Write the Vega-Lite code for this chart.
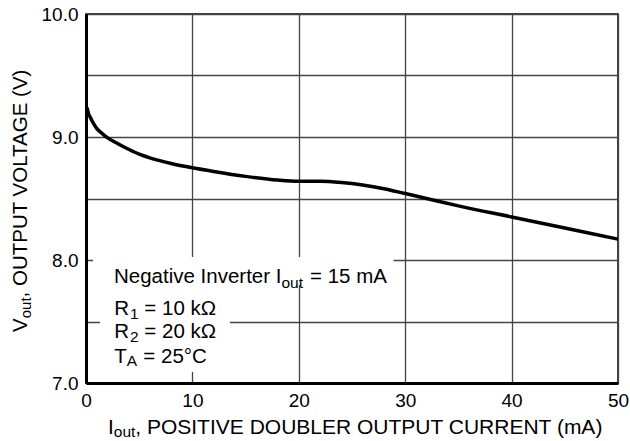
{
  "$schema": "https://vega.github.io/schema/vega-lite/v6.json",
  "width": 532,
  "height": 369,
  "autosize": {"type": "none"},
  "padding": {"left": 86, "top": 14, "right": 12, "bottom": 58},
  "background": "white",
  "config": {
    "view": {"stroke": "black", "strokeWidth": 1.5},
    "font": "Liberation Sans",
    "axis": {
      "domainColor": "black",
      "domainWidth": 3,
      "ticks": false,
      "grid": true,
      "gridColor": "#444444",
      "gridWidth": 1.3,
      "gridOpacity": 1,
      "labelColor": "black",
      "labelFont": "Liberation Sans",
      "labelFontSize": 19,
      "labelPadding": 8
    },
    "text": {"font": "Liberation Sans", "color": "black", "align": "left", "baseline": "alphabetic"}
  },
  "datasets": {
    "curve": [
      {"current": 0.1, "voltage": 9.24},
      {"current": 0.2, "voltage": 9.2},
      {"current": 0.4, "voltage": 9.16},
      {"current": 0.7, "voltage": 9.11},
      {"current": 1.0, "voltage": 9.07},
      {"current": 1.5, "voltage": 9.03},
      {"current": 2.0, "voltage": 8.995},
      {"current": 3.0, "voltage": 8.945},
      {"current": 4.0, "voltage": 8.9},
      {"current": 5.0, "voltage": 8.86},
      {"current": 6.0, "voltage": 8.83},
      {"current": 8.0, "voltage": 8.785},
      {"current": 10, "voltage": 8.75},
      {"current": 12, "voltage": 8.72},
      {"current": 15, "voltage": 8.68},
      {"current": 18, "voltage": 8.65},
      {"current": 20, "voltage": 8.64},
      {"current": 22, "voltage": 8.64},
      {"current": 24, "voltage": 8.63},
      {"current": 26, "voltage": 8.61},
      {"current": 28, "voltage": 8.58},
      {"current": 30, "voltage": 8.54},
      {"current": 32, "voltage": 8.5},
      {"current": 35, "voltage": 8.44},
      {"current": 40, "voltage": 8.35},
      {"current": 45, "voltage": 8.26},
      {"current": 50, "voltage": 8.17}
    ],
    "anchor": [{}]
  },
  "layer": [
    {
      "data": {"name": "curve"},
      "mark": {"type": "line", "color": "black", "strokeWidth": 3.5, "interpolate": "monotone"},
      "encoding": {
        "x": {
          "field": "current", "type": "quantitative",
          "scale": {"domain": [0, 50], "nice": false, "zero": false},
          "axis": {"title": null, "values": [0, 10, 20, 30, 40, 50], "labelFlush": false}
        },
        "y": {
          "field": "voltage", "type": "quantitative",
          "scale": {"domain": [7, 10], "nice": false, "zero": false},
          "axis": {
            "title": null,
            "values": [7, 7.5, 8, 8.5, 9, 9.5, 10],
            "labelExpr": "datum.value % 1 == 0 ? format(datum.value, '.1f') : ''"
          }
        }
      }
    },
    {
      "data": {"name": "anchor"},
      "mark": {"type": "rect", "fill": "white"},
      "encoding": {
        "x": {"datum": 0.66}, "x2": {"datum": 28.9},
        "y": {"datum": 8.024}, "y2": {"datum": 7.797}
      }
    },
    {
      "data": {"name": "anchor"},
      "mark": {"type": "rect", "fill": "white"},
      "encoding": {
        "x": {"datum": 1.32}, "x2": {"datum": 13.53},
        "y": {"datum": 7.797}, "y2": {"datum": 7.089}
      }
    },
    {"data": {"name": "anchor"}, "mark": {"type": "text", "fontSize": 20.5}, "encoding": {"x": {"datum": 2.63}, "y": {"datum": 7.811}, "text": {"value": "Negative Inverter I"}}},
    {"data": {"name": "anchor"}, "mark": {"type": "text", "fontSize": 15.5}, "encoding": {"x": {"datum": 18.37}, "y": {"datum": 7.776}, "text": {"value": "out"}}},
    {"data": {"name": "anchor"}, "mark": {"type": "text", "fontSize": 20.5}, "encoding": {"x": {"datum": 21.05}, "y": {"datum": 7.811}, "text": {"value": "= 15 mA"}}},
    {"data": {"name": "anchor"}, "mark": {"type": "text", "fontSize": 20.5}, "encoding": {"x": {"datum": 2.65}, "y": {"datum": 7.553}, "text": {"value": "R"}}},
    {"data": {"name": "anchor"}, "mark": {"type": "text", "fontSize": 15.5}, "encoding": {"x": {"datum": 4.14}, "y": {"datum": 7.524}, "text": {"value": "1"}}},
    {"data": {"name": "anchor"}, "mark": {"type": "text", "fontSize": 20.5}, "encoding": {"x": {"datum": 5.48}, "y": {"datum": 7.553}, "text": {"value": "= 10 kΩ"}}},
    {"data": {"name": "anchor"}, "mark": {"type": "text", "fontSize": 20.5}, "encoding": {"x": {"datum": 2.65}, "y": {"datum": 7.363}, "text": {"value": "R"}}},
    {"data": {"name": "anchor"}, "mark": {"type": "text", "fontSize": 15.5}, "encoding": {"x": {"datum": 4.14}, "y": {"datum": 7.336}, "text": {"value": "2"}}},
    {"data": {"name": "anchor"}, "mark": {"type": "text", "fontSize": 20.5}, "encoding": {"x": {"datum": 5.48}, "y": {"datum": 7.363}, "text": {"value": "= 20 kΩ"}}},
    {"data": {"name": "anchor"}, "mark": {"type": "text", "fontSize": 20.5}, "encoding": {"x": {"datum": 2.65}, "y": {"datum": 7.165}, "text": {"value": "T"}}},
    {"data": {"name": "anchor"}, "mark": {"type": "text", "fontSize": 15.5}, "encoding": {"x": {"datum": 3.83}, "y": {"datum": 7.138}, "text": {"value": "A"}}},
    {"data": {"name": "anchor"}, "mark": {"type": "text", "fontSize": 20.5}, "encoding": {"x": {"datum": 5.39}, "y": {"datum": 7.165}, "text": {"value": "= 25°C"}}},
    {"data": {"name": "anchor"}, "mark": {"type": "text", "fontSize": 21}, "encoding": {"x": {"datum": 2.07}, "y": {"datum": 6.585}, "text": {"value": "I"}}},
    {"data": {"name": "anchor"}, "mark": {"type": "text", "fontSize": 15.5}, "encoding": {"x": {"datum": 2.61}, "y": {"datum": 6.557}, "text": {"value": "out"}}},
    {"data": {"name": "anchor"}, "mark": {"type": "text", "fontSize": 21}, "encoding": {"x": {"datum": 4.63}, "y": {"datum": 6.585}, "text": {"value": ", POSITIVE DOUBLER OUTPUT CURRENT (mA)"}}},
    {"data": {"name": "anchor"}, "mark": {"type": "text", "fontSize": 20.5, "angle": 270}, "encoding": {"x": {"datum": -5.545}, "y": {"datum": 7.415}, "text": {"value": "V"}}},
    {"data": {"name": "anchor"}, "mark": {"type": "text", "fontSize": 15, "angle": 270}, "encoding": {"x": {"datum": -5.216}, "y": {"datum": 7.526}, "text": {"value": "out"}}},
    {"data": {"name": "anchor"}, "mark": {"type": "text", "fontSize": 20.5, "angle": 270}, "encoding": {"x": {"datum": -5.545}, "y": {"datum": 7.696}, "text": {"value": ", OUTPUT VOLTAGE (V)"}}}
  ]
}
